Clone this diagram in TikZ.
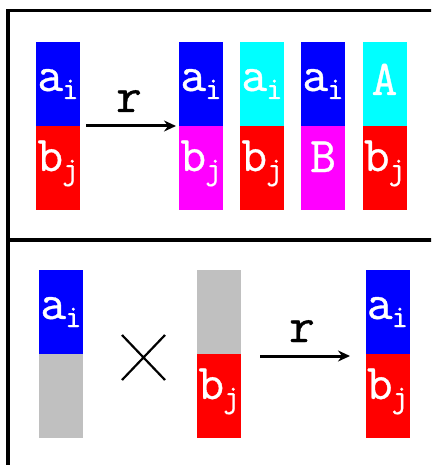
\documentclass[tikz,border=0pt]{standalone}
\usepackage{fontspec}
\newfontfamily\courfont{Latin Modern Mono}[FakeBold=0.7]
\usetikzlibrary{arrows.meta}
\definecolor{cblue}{RGB}{0,0,255}
\definecolor{cred}{RGB}{255,0,0}
\definecolor{ccyan}{RGB}{0,255,255}
\definecolor{cmag}{RGB}{255,0,255}
\definecolor{cgray}{RGB}{192,192,192}
\newcommand{\mainfs}{\courfont\fontsize{50}{50}\selectfont}
\newcommand{\subfs}{\courfont\fontsize{32}{32}\selectfont}
\newcommand{\lab}[2]{{\mainfs #1\kern-1pt\raisebox{-8pt}{\subfs #2}}}
\tikzset{
  cell/.style={minimum width=44pt, minimum height=84pt, inner sep=0pt, outer sep=0pt, draw=none},
  celltext/.style={anchor=base, inner sep=0pt, text=white},
  frameline/.style={line width=3.5pt, black},
  maparrow/.style={line width=3pt, -{Stealth[length=12pt, width=11pt, inset=4pt]}},
  rlabel/.style={anchor=base, inner sep=0pt, font=\mainfs},
}
\begin{document}
\begin{tikzpicture}[x=1pt,y=-1pt]
\useasboundingbox (0,0) rectangle (431,465);
\clip (0,0) rectangle (431,465);
\fill[white] (0,0) rectangle (431,465);
% frame
\draw[frameline] (8,500) -- (8,10.5) -- (470,10.5);
\draw[frameline] (8,240) -- (470,240);
% ---- top panel ----
\node[cell, fill=cblue] (t0a) at (58,84) {};
\node[cell, fill=cred]  (t0b) at (58,168) {};
\node[cell, fill=cblue] (t1a) at (201,84) {};
\node[cell, fill=cmag]  (t1b) at (201,168) {};
\node[cell, fill=ccyan] (t2a) at (262,84) {};
\node[cell, fill=cred]  (t2b) at (262,168) {};
\node[cell, fill=cblue] (t3a) at (323,84) {};
\node[cell, fill=cmag]  (t3b) at (323,168) {};
\node[cell, fill=ccyan] (t4a) at (384.5,84) {};
\node[cell, fill=cred]  (t4b) at (384.5,168) {};
\node[celltext] (l0a) at (58,91) {\lab{a}{i}};
\node[celltext] (l0b) at (58,171) {\lab{b}{j}};
\node[celltext] (l1a) at (201,91) {\lab{a}{i}};
\node[celltext] (l1b) at (201,171) {\lab{b}{j}};
\node[celltext] (l2a) at (262,91) {\lab{a}{i}};
\node[celltext] (l2b) at (262,171) {\lab{b}{j}};
\node[celltext] (l3a) at (323,91) {\lab{a}{i}};
\node[celltext] (l3b) at (323,172) {{\mainfs B}};
\node[celltext] (l4a) at (384.5,95) {{\mainfs A}};
\node[celltext] (l4b) at (384.5,171) {\lab{b}{j}};
\coordinate (ta0) at (86,126);
\coordinate (ta1) at (176,126);
\draw[maparrow] (ta0) -- (ta1);
\node[rlabel] (tr) at (129,112) {r};
% ---- bottom panel ----
\node[cell, fill=cblue] (b0a) at (61,312) {};
\node[cell, fill=cgray] (b0b) at (61,396) {};
\node[cell, fill=cgray] (b1a) at (219,312) {};
\node[cell, fill=cred]  (b1b) at (219,396) {};
\node[cell, fill=cblue] (b2a) at (387.5,312) {};
\node[cell, fill=cred]  (b2b) at (387.5,396) {};
\node[celltext] (m0a) at (61,319) {\lab{a}{i}};
\node[celltext] (m1b) at (219,399) {\lab{b}{j}};
\node[celltext] (m2a) at (387.5,319) {\lab{a}{i}};
\node[celltext] (m2b) at (387.5,399) {\lab{b}{j}};
\coordinate (x1) at (122,335);
\coordinate (x2) at (165,380);
\coordinate (x3) at (122,380);
\coordinate (x4) at (165,335);
\draw[line width=2.2pt] (x1) -- (x2) (x3) -- (x4);
\coordinate (ba0) at (260,356);
\coordinate (ba1) at (350,356);
\draw[maparrow] (ba0) -- (ba1);
\node[rlabel] (br) at (302,342) {r};
\end{tikzpicture}
\end{document}
